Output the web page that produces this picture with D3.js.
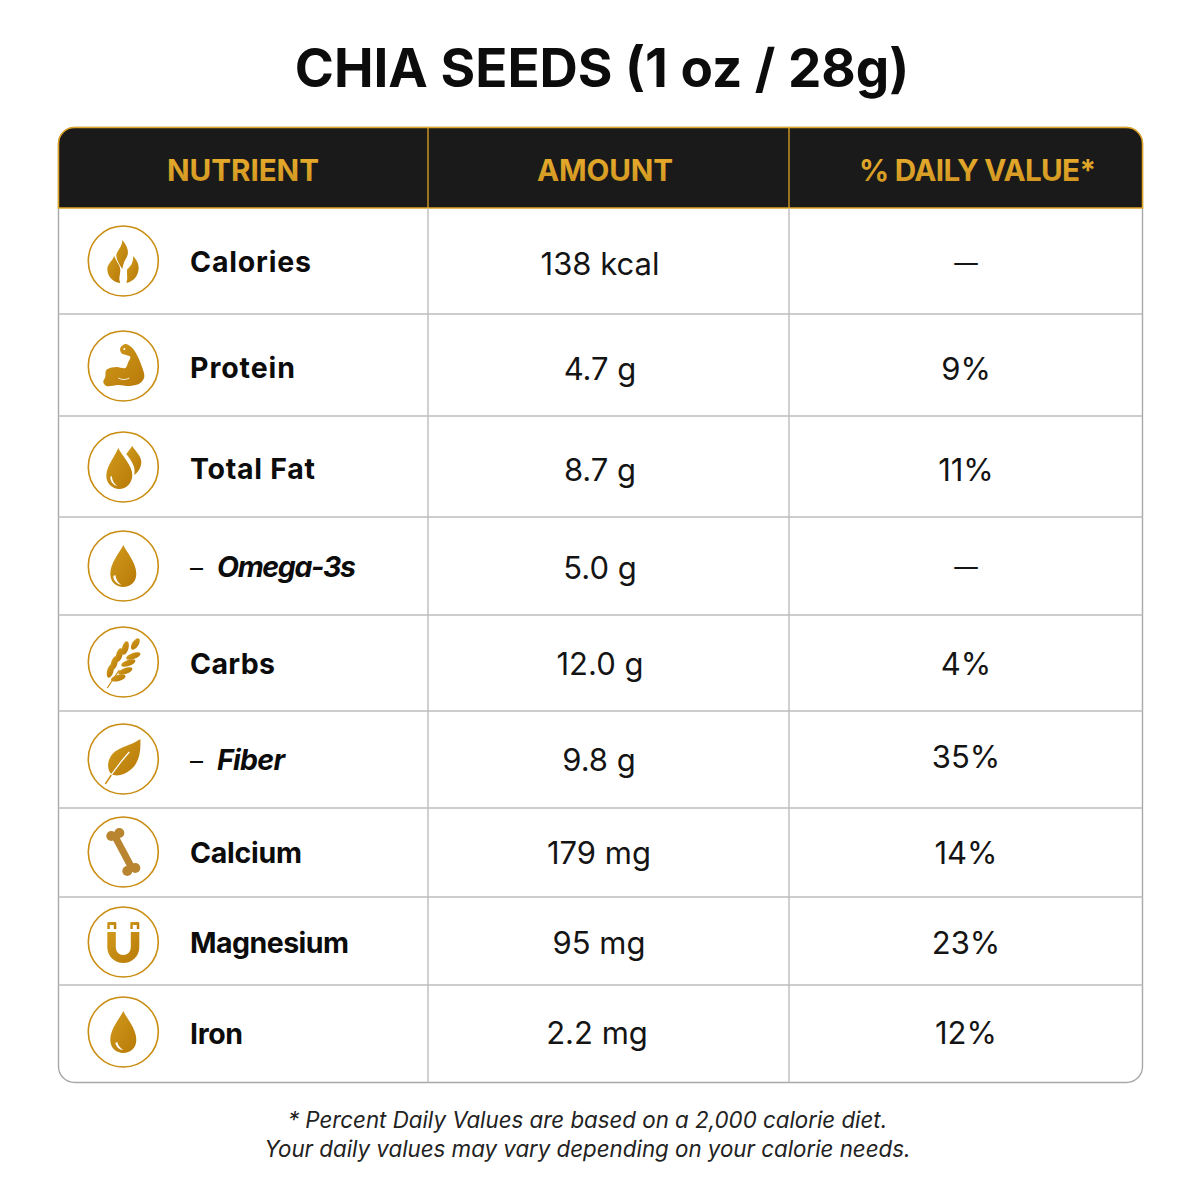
<!DOCTYPE html>
<html><head><meta charset="utf-8">
<script src="https://cdn.jsdelivr.net/npm/d3@7"></script>
<style>html,body{margin:0;padding:0;background:#fff}svg{display:block}</style>
</head><body><div id="chart"></div>
<script>
// ---- data ----
const titleText = "CHIA SEEDS (1 oz / 28g)";
const headers = ["NUTRIENT", "AMOUNT", "% DAILY VALUE*"];
const nutrients = ["Calories","Protein","Total Fat","Omega-3s","Carbs","Fiber","Calcium","Magnesium","Iron"];
const subRow = [false,false,false,true,false,true,false,false,false];
const amounts = ["138 kcal","4.7 g","8.7 g","5.0 g","12.0 g","9.8 g","179 mg","95 mg","2.2 mg"];
const dailyValues = ["—","9%","11%","—","4%","35%","14%","23%","12%"];
const icons = ["flame","muscle","drops","drop","wheat","leaf","bone","magnet","drop2"];
const notes = ["* Percent Daily Values are based on a 2,000 calorie diet.","Your daily values may vary depending on your calorie needs."];

// ---- layout ----
const W=1200,H=1200,X0=58.5,X1=1142.5,Y0=127.5,HB=208,Y1=1082.5,R=16;
const colLines=[428,789];
const rowBottoms=[314,416,517,615,711,808,897,985];
const iconY=[261,366,467,566,662,759,852,942,1032];
const nameBase=[272,378,479,577,674,770,863,953,1044];
const nameWidth=[121,105,125,139,85,68,112,159,53];
const amtBase=[275,380,481,579,675,771,864,954,1044];
const pctBase=[271,380,481,575,675,768,864,954,1044];
const amtX=[600,600,600,600,600,599,599,599,597];
const headX=[243,605,977.5];
const headWidth=[152,136,237];
const gold="#c98d12",line="#bdbdbd";
const fam="Inter, 'Noto Sans', sans-serif";

const svg=d3.select("#chart").append("svg").attr("width",W).attr("height",H).attr("viewBox",`0 0 ${W} ${H}`);
const defs=svg.append("defs");
const g1=defs.append("linearGradient").attr("id","hg").attr("x1",0).attr("y1",0).attr("x2",0).attr("y2",1);
g1.append("stop").attr("offset",0).attr("stop-color","#eab02e");
g1.append("stop").attr("offset",1).attr("stop-color","#cf9320");
const g2=defs.append("linearGradient").attr("id","ig").attr("x1",0).attr("y1",0).attr("x2",1).attr("y2",1);
g2.append("stop").attr("offset",0).attr("stop-color","#d09a1c");
g2.append("stop").attr("offset",1).attr("stop-color","#b87a08");

svg.append("rect").attr("width",W).attr("height",H).attr("fill","#fff");
svg.append("text").attr("x",602).attr("y",87).attr("text-anchor","middle")
  .attr("font-family",fam).attr("font-weight",700).attr("font-size",53).attr("fill","#0c0c0c").text(titleText);

// table body
svg.append("rect").attr("x",X0).attr("y",Y0).attr("width",X1-X0).attr("height",Y1-Y0).attr("rx",R)
  .attr("fill","#fff").attr("stroke","#a8a8a8").attr("stroke-width",1.4);
// header
const hp=d3.path();
hp.moveTo(X0,HB);hp.lineTo(X0,Y0+R);hp.arcTo(X0,Y0,X0+R,Y0,R);hp.lineTo(X1-R,Y0);hp.arcTo(X1,Y0,X1,Y0+R,R);hp.lineTo(X1,HB);hp.closePath();
svg.append("path").attr("d",hp.toString()).attr("fill","#1a1a1a").attr("stroke","#e0a526").attr("stroke-width",1.5);

// grid
svg.selectAll("line.row").data(rowBottoms).join("line").attr("class","row")
  .attr("x1",X0).attr("x2",X1).attr("y1",d=>d).attr("y2",d=>d).attr("stroke",line).attr("stroke-width",1.4);
svg.selectAll("line.col").data(colLines).join("line").attr("class","col")
  .attr("x1",d=>d).attr("x2",d=>d).attr("y1",HB).attr("y2",Y1).attr("stroke",line).attr("stroke-width",1.4);
svg.selectAll("line.colh").data(colLines).join("line").attr("class","colh")
  .attr("x1",d=>d).attr("x2",d=>d).attr("y1",Y0).attr("y2",HB).attr("stroke","#e0a526").attr("stroke-width",1.3);

// headers
svg.selectAll("text.h").data(headers).join("text").attr("class","h")
  .attr("x",(d,i)=>headX[i]).attr("y",180.5).attr("text-anchor","middle")
  .attr("textLength",(d,i)=>headWidth[i]).attr("lengthAdjust","spacing")
  .attr("font-family",fam).attr("font-weight",700).attr("font-size",29.7).attr("fill","url(#hg)").text(d=>d);

// names
svg.selectAll("text.n").data(nutrients).join("text").attr("class","n")
  .attr("x",(d,i)=>subRow[i]?217:190).attr("y",(d,i)=>nameBase[i])
  .attr("textLength",(d,i)=>nameWidth[i]).attr("lengthAdjust","spacing")
  .attr("font-family",fam).attr("font-weight",700).attr("font-size",28.5).attr("fill","#0c0c0c")
  .attr("font-style",(d,i)=>subRow[i]?"italic":"normal").text(d=>d);
// sub-row dash
svg.selectAll("text.dash").data(nutrients.filter((d,i)=>subRow[i])).join("text").attr("class","dash")
  .attr("x",190).attr("y",d=>nameBase[nutrients.indexOf(d)])
  .attr("font-family",fam).attr("font-size",26).attr("fill","#0c0c0c").text("–");
// amounts
svg.selectAll("text.a").data(amounts).join("text").attr("class","a")
  .attr("x",(d,i)=>amtX[i]).attr("y",(d,i)=>amtBase[i]).attr("text-anchor","middle")
  .attr("font-family",fam).attr("font-weight",400).attr("font-size",31).attr("fill","#141414").text(d=>d);
// dv
svg.selectAll("text.p").data(dailyValues).join("text").attr("class","p")
  .attr("x",966).attr("y",(d,i)=>pctBase[i]).attr("text-anchor","middle")
  .attr("font-family",fam).attr("font-weight",400).attr("font-size",d=>d==="—"?23.5:31).attr("fill","#141414").text(d=>d);
// notes
svg.selectAll("text.f").data(notes).join("text").attr("class","f")
  .attr("x",587.5).attr("y",(d,i)=>1128+i*29).attr("text-anchor","middle")
  .attr("font-family",fam).attr("font-style","italic").attr("font-size",22.3).attr("fill","#222").text(d=>d);

// icons
const dropPath="M0-21C3-14 13-4 13 8C13 16 7 21 0 21C-7 21-13 16-13 8C-13-4-3-14 0-21Z";
const closedCurve=d3.line().curve(d3.curveCatmullRomClosed.alpha(0.5));
const drawers={
 flame(g){
  g.append("path").attr("d","M-1-21C5-14 6-8 3-3C1 0 0 3-1 8C-4 3-7-1-7-6C-6-11-1-14-1-21Z");
  g.append("path").attr("d","M-9-5C-7 1-3 4-3 9C-3 14-5 17-3 22C-11 21-16 15-16 8C-16 3-11 0-9-5Z");
  g.append("path").attr("d","M10-5C15 1 16 5 15 10C14 16 9 21 3 22C5 17 3 13 4 8C7 6 10 2 10-5Z");
 },
 muscle(g){
  g.append("path").attr("d",closedCurve([[-18,11],[-17,4],[-7,1],[2,2],[5,-4],[7,-9],[-2,-13],[-3,-18],[2,-22],[8,-19],[12,-14],[18,-1],[21,11],[17,17],[7,20],[-5,19],[-17,20],[-20,16]]));
  g.append("path").attr("d","M-5 12C-2 14 3 14 6 12").attr("fill","none").attr("stroke","#fff").attr("stroke-width",0.9);
  g.append("circle").attr("cx",1).attr("cy",-17).attr("r",1).attr("fill","#fff");
 },
 drops(g){
  g.append("path").attr("d","M9-21C12-16 18-11 18-5C18 1 14 6 11 8C12 2 11-3 3-13C5-16 7-18 9-21Z");
  g.append("path").attr("d","M-5-19C-2-12 9-2 9 8C9 16 3 22-4 22C-11 22-17 16-17 9C-17-1-8-11-5-19Z");
  g.append("path").attr("d","M-13 10C-13 15-10 18-6 19C-9 17-11 14-11.5 9Z").attr("fill","#fff");
 },
 drop(g){
  g.append("path").attr("d",dropPath);
  g.append("path").attr("d","M-10 10C-10 15-6 18-2 19C-5 17-7 14-8 9Z").attr("fill","#fff");
 },
 drop2(g){
  g.append("path").attr("d",dropPath);
  g.append("path").attr("d","M-8 11C-7 15-4 18 0 18C-3 16-5 14-6 10Z").attr("fill","#fff");
 },
 wheat(g){
  const leaves=[[12,-18,3.2,6.5,33],[2,-14,3.2,7,15],[-4,-7,3.2,7,15],[-9,1,3.2,7,15],[-13,9,3.2,7,15],
                [10,-6,7.5,3,-20],[5,1,7.5,3,-20],[2,9,7.5,3,-20],[-5,16,7.5,3,-15]];
  g.selectAll("ellipse").data(leaves).join("ellipse")
   .attr("rx",d=>d[2]).attr("ry",d=>d[3])
   .attr("transform",d=>`translate(${d[0]},${d[1]}) rotate(${d[4]})`);
  g.append("line").attr("x1",-16).attr("y1",26).attr("x2",-4).attr("y2",8).attr("stroke",gold).attr("stroke-width",1.3);
 },
 leaf(g){
  g.append("path").attr("d","M17-20C18-6 15 5 7 11C1 16-7 18-12 15C-17 10-16 0-10-6C-4-12 9-14 17-20Z");
  g.append("path").attr("d","M-18 25C-10 12-2 2 6-7").attr("fill","none").attr("stroke","#fff").attr("stroke-width",1.2);
  g.append("line").attr("x1",-18).attr("y1",25).attr("x2",-12).attr("y2",16).attr("stroke",gold).attr("stroke-width",1.4);
 },
 bone(g){
  g.attr("fill","#b98530");
  g.append("line").attr("x1",-8).attr("y1",-15).attr("x2",8).attr("y2",15).attr("stroke","#b98530").attr("stroke-width",7);
  [[-4,-19],[-12,-16],[4,19],[12,16]].forEach(c=>g.append("circle").attr("cx",c[0]).attr("cy",c[1]).attr("r",5));
 },
 magnet(g){
  g.append("path").attr("d","M-16-10H-7.5V5C-7.5 10-4 13 0 13C4 13 7.5 10 7.5 5V-10H16V5C16 15 8 21 0 21C-8 21-16 15-16 5Z");
  g.append("path").attr("d","M-16-13V-19Q-16-20-15-20H-8Q-7-20-7-19V-13H-9.5V-17H-13.5V-13Z");
  g.append("path").attr("d","M16-13V-19Q16-20 15-20H8Q7-20 7-19V-13H9.5V-17H13.5V-13Z");
 }
};
const ig=svg.selectAll("g.icon").data(icons).join("g").attr("class","icon")
  .attr("transform",(d,i)=>`translate(123.3,${iconY[i]})`);
ig.append("circle").attr("r",35).attr("fill","#fff").attr("stroke",gold).attr("stroke-width",1.6);
ig.each(function(d){const g=d3.select(this).append("g").attr("fill","url(#ig)");drawers[d](g);});
</script></body></html>
